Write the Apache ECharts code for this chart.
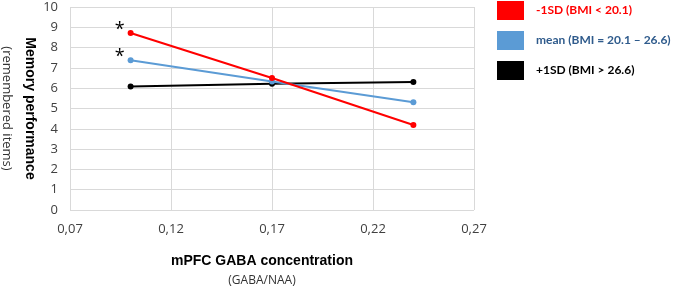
<!DOCTYPE html>
<html>
<head>
<meta charset="utf-8">
<script src="https://cdn.jsdelivr.net/npm/echarts@6/dist/echarts.min.js"></script>
<style>
  html, body { margin: 0; padding: 0; background: #fff; }
  #main { width: 685px; height: 289px; }
</style>
</head>
<body>
<div id="main"></div>
<script>
// GABA/NAA levels where each group is evaluated
var gabaLevels = [0.10, 0.17, 0.24];
// memory performance (remembered items) per BMI group
var lowBmi = [8.72, 6.5, 4.19];
var meanBmi = [7.38, 6.33, 5.31];
var highBmi = [6.08, 6.22, 6.31];
var seriesNames = ['-1SD (BMI < 20.1)', 'mean (BMI = 20.1 – 26.6)', '+1SD (BMI > 26.6)'];
var seriesColors = ['#ff0000', '#5b9bd5', '#000000'];
var legendTextColors = ['#ff0000', '#2f5b8c', '#000000'];
var starMark = '*';

var tickFont = '"Open Sans", sans-serif';

function makePoints(values, starred) {
  return values.map(function (v, i) {
    var p = { value: [gabaLevels[i], v] };
    if (starred && i === 0) {
      p.label = {
        show: true,
        formatter: starMark,
        position: [-8, 0],
        align: 'center',
        verticalAlign: 'middle',
        fontSize: 18,
        color: '#000',
        fontFamily: tickFont
      };
    }
    return p;
  });
}

function lineSeries(idx, values, starred) {
  return {
    name: seriesNames[idx],
    type: 'line',
    data: makePoints(values, starred),
    symbol: 'circle',
    symbolSize: 6,
    color: seriesColors[idx],
    lineStyle: { width: 2, color: seriesColors[idx] },
    itemStyle: { color: seriesColors[idx] },
    z: 10 - idx
  };
}

var myChart = echarts.init(document.getElementById('main'));
var option = {
  animation: false,
  grid: { left: 70, right: 211, top: 7, bottom: 79, outerBoundsMode: 'none', containLabel: false },
  legend: {
    orient: 'vertical',
    left: 497,
    top: 1,
    padding: 0,
    itemWidth: 27,
    itemHeight: 19,
    itemGap: 11,
    icon: 'rect',
    data: seriesNames.map(function (n, i) {
      return {
        name: n,
        itemStyle: { color: seriesColors[i] },
        textStyle: { color: legendTextColors[i] }
      };
    }),
    textStyle: {
      fontFamily: 'Lato, sans-serif',
      fontWeight: 'bold',
      fontSize: 12,
      padding: [0, 0, 0, 7]
    }
  },
  xAxis: {
    type: 'value',
    min: 0.07,
    max: 0.27,
    interval: 0.05,
    axisLine: { show: false },
    axisTick: { show: false },
    splitLine: { show: true, lineStyle: { color: '#d9d9d9', width: 1 } },
    axisLabel: {
      margin: 13,
      fontSize: 13,
      color: '#404040',
      fontFamily: tickFont,
      formatter: function (v) { return v.toFixed(2).replace('.', ','); }
    },
    name: '{t|mPFC GABA concentration}\n{s|(GABA/NAA)}',
    nameLocation: 'middle',
    nameGap: 40,
    nameMoveOverlap: false,
    nameTextStyle: {
      padding: [0, 20, 0, 0],
      rich: {
        t: { fontFamily: 'Liberation Sans, Arial, sans-serif', fontWeight: 'bold', fontSize: 14, color: '#000', lineHeight: 22, align: 'center' },
        s: { fontFamily: tickFont, fontSize: 12, color: '#333', lineHeight: 18, align: 'center' }
      }
    }
  },
  yAxis: {
    type: 'value',
    min: 0,
    max: 10,
    interval: 1,
    axisLine: { show: false },
    axisTick: { show: false },
    splitLine: { show: true, lineStyle: { color: '#d9d9d9', width: 1 } },
    axisLabel: {
      margin: 12,
      fontSize: 13,
      color: '#404040',
      fontFamily: tickFont
    },
    name: '{t|Memory performance}\n{s|(remembered items)}',
    nameLocation: 'middle',
    nameRotate: -90,
    nameGap: 28,
    nameMoveOverlap: false,
    nameTextStyle: {
      rich: {
        t: { fontFamily: 'Liberation Sans, Arial, sans-serif', fontWeight: 'bold', fontSize: 14, color: '#000', lineHeight: 24, align: 'center' },
        s: { fontFamily: tickFont, fontSize: 13, color: '#333', lineHeight: 22, align: 'center' }
      }
    }
  },
  series: [
    lineSeries(0, lowBmi, true),
    lineSeries(1, meanBmi, true),
    lineSeries(2, highBmi, false)
  ]
};
myChart.setOption(option);
</script>
</body>
</html>
